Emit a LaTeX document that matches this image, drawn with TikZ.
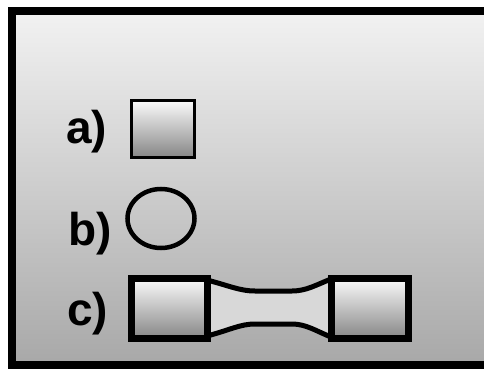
\documentclass[tikz,border=0pt]{standalone}
\usepackage{fontspec}
\setmainfont{Liberation Sans}
\definecolor{bgtop}{HTML}{F2F2F2}
\definecolor{bgbot}{HTML}{A8A8A8}
\definecolor{blktop}{HTML}{FAFAFA}
\definecolor{blkbot}{HTML}{868686}
\definecolor{neck}{HTML}{D8D8D8}
\tikzset{
  lbl/.style={inner sep=0pt, anchor=base west, font=\fontsize{46}{46}\selectfont\bfseries},
  block/.style={draw=black, line width=#1, top color=blktop, bottom color=blkbot},
}
\begin{document}
\begin{tikzpicture}[x=1pt, y=-1pt]
\useasboundingbox (0,0) rectangle (484,369);
\clip (0,0) rectangle (484,369);
\fill[white] (0,0) rectangle (484,369);
% panel with shaded background and heavy frame
\shade[top color=bgtop, bottom color=bgbot] (12,11) rectangle (520,365);
\draw[line width=7.5pt] (12,11) rectangle (520,365);
% labels
\node[lbl] (la) at (66,143) {a)};
\node[lbl] (lb) at (68,245) {b)};
\node[lbl] (lc) at (67,325) {c)};
% a) square specimen
\draw[block=3pt] (131.5,100.5) rectangle (194.5,157.5);
% b) circular specimen
\draw[line width=4.5pt] (161,218.5) ellipse [x radius=33.5, y radius=29.5];
% c) dog-bone specimen: waisted neck between two grips
\draw[line width=5pt, fill=neck, line join=round]
  (207,280) .. controls (230,286) and (240,291) .. (255,291) -- (292,291)
  .. controls (306,291) and (316,285) .. (331,279) -- (331,337)
  .. controls (316,331) and (306,324) .. (292,324) -- (255,324)
  .. controls (240,324) and (230,330) .. (207,336) -- cycle;
\draw[block=7pt] (131.5,278.5) rectangle (207,338.5);
\draw[block=7pt] (331,278.5) rectangle (408.5,338.5);
\end{tikzpicture}
\end{document}
